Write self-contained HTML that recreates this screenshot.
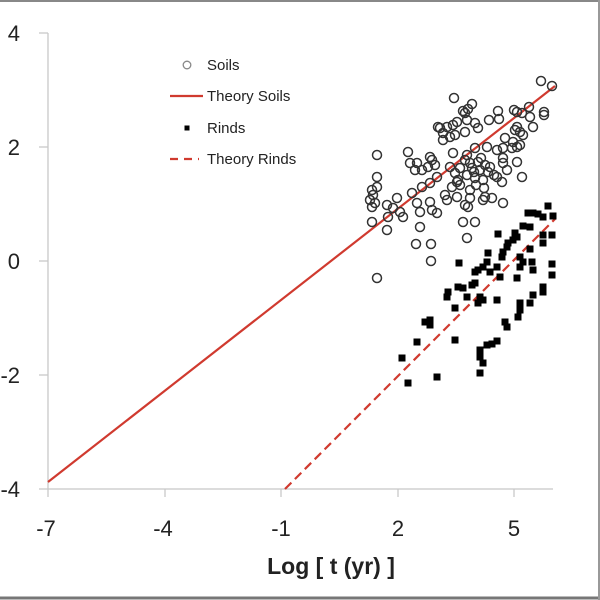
<!DOCTYPE html>
<html><head><style>
html,body{margin:0;padding:0;background:#fff;}
svg{display:block;font-family:"Liberation Sans",sans-serif;}
</style></head><body>
<svg width="600" height="600" viewBox="0 0 600 600" xmlns="http://www.w3.org/2000/svg">
<rect x="0" y="0" width="600" height="600" fill="#fff"/>
<line x1="0" y1="1" x2="600" y2="1" stroke="#888" stroke-width="2"/>
<line x1="0" y1="598" x2="600" y2="598" stroke="#777" stroke-width="3"/>
<line x1="599" y1="0" x2="599" y2="600" stroke="#999" stroke-width="2"/>
<!-- axes -->
<g stroke="#c8c8c8" stroke-width="1.3">
<line x1="48" y1="33" x2="48" y2="489"/>
<line x1="48" y1="489" x2="553" y2="489"/>
<line x1="39" y1="33" x2="48" y2="33"/><line x1="39" y1="147" x2="48" y2="147"/><line x1="39" y1="261" x2="48" y2="261"/><line x1="39" y1="375" x2="48" y2="375"/><line x1="39" y1="489" x2="48" y2="489"/>
<line x1="48" y1="489" x2="48" y2="497"/><line x1="165" y1="489" x2="165" y2="497"/><line x1="281" y1="489" x2="281" y2="497"/><line x1="398" y1="489" x2="398" y2="497"/><line x1="514" y1="489" x2="514" y2="497"/>
</g>
<g font-size="22" fill="#222" text-anchor="end">
<text x="20" y="41">4</text><text x="20" y="155">2</text><text x="20" y="269">0</text><text x="20" y="383">-2</text><text x="20" y="497">-4</text>
</g>
<g font-size="22" fill="#222" text-anchor="middle">
<text x="46" y="536">-7</text><text x="163" y="536">-4</text><text x="281" y="536">-1</text><text x="398" y="536">2</text><text x="514" y="536">5</text>
<text x="331" y="574" font-weight="bold" font-size="23">Log [ t (yr) ]</text>
</g>
<!-- theory lines -->
<line x1="48" y1="482" x2="555" y2="86" stroke="#d03a2f" stroke-width="2.2"/>
<line x1="285" y1="489" x2="555" y2="219" stroke="#d03a2f" stroke-width="2.2" stroke-dasharray="9,5"/>
<!-- soils -->
<g fill="none" stroke="#333" stroke-width="1.5">
<script></script>
<circle cx="541" cy="81" r="4.5"/><circle cx="552" cy="86" r="4.5"/><circle cx="454" cy="98" r="4.5"/><circle cx="472" cy="104" r="4.5"/><circle cx="463" cy="111" r="4.5"/><circle cx="468" cy="109" r="4.5"/><circle cx="465" cy="113" r="4.5"/><circle cx="498" cy="111" r="4.5"/><circle cx="489" cy="120" r="4.5"/><circle cx="499" cy="119" r="4.5"/><circle cx="514" cy="110" r="4.5"/><circle cx="517" cy="112" r="4.5"/><circle cx="529" cy="107" r="4.5"/><circle cx="522" cy="113" r="4.5"/><circle cx="544" cy="112" r="4.5"/><circle cx="544" cy="115" r="4.5"/><circle cx="530" cy="117" r="4.5"/>
<circle cx="438" cy="127" r="4.5"/><circle cx="440" cy="128" r="4.5"/><circle cx="447" cy="127" r="4.5"/><circle cx="453" cy="125" r="4.5"/><circle cx="457" cy="122" r="4.5"/><circle cx="467" cy="120" r="4.5"/><circle cx="475" cy="123" r="4.5"/><circle cx="478" cy="128" r="4.5"/><circle cx="533" cy="127" r="4.5"/><circle cx="517" cy="127" r="4.5"/><circle cx="515" cy="130" r="4.5"/><circle cx="520" cy="132" r="4.5"/><circle cx="523" cy="135" r="4.5"/>
<circle cx="443" cy="133" r="4.5"/><circle cx="450" cy="137" r="4.5"/><circle cx="443" cy="140" r="4.5"/><circle cx="455" cy="135" r="4.5"/><circle cx="465" cy="132" r="4.5"/><circle cx="505" cy="138" r="4.5"/><circle cx="513" cy="142" r="4.5"/><circle cx="517" cy="147" r="4.5"/><circle cx="512" cy="148" r="4.5"/><circle cx="520" cy="145" r="4.5"/>
<circle cx="377" cy="155" r="4.5"/><circle cx="408" cy="152" r="4.5"/><circle cx="410" cy="163" r="4.5"/><circle cx="417" cy="163" r="4.5"/><circle cx="430" cy="157" r="4.5"/><circle cx="432" cy="160" r="4.5"/><circle cx="428" cy="167" r="4.5"/><circle cx="435" cy="165" r="4.5"/><circle cx="422" cy="170" r="4.5"/><circle cx="415" cy="170" r="4.5"/>
<circle cx="467" cy="155" r="4.5"/><circle cx="453" cy="153" r="4.5"/><circle cx="475" cy="148" r="4.5"/><circle cx="487" cy="147" r="4.5"/><circle cx="497" cy="150" r="4.5"/><circle cx="503" cy="148" r="4.5"/>
<circle cx="465" cy="160" r="4.5"/><circle cx="470" cy="163" r="4.5"/><circle cx="478" cy="162" r="4.5"/><circle cx="485" cy="165" r="4.5"/><circle cx="472" cy="168" r="4.5"/><circle cx="480" cy="170" r="4.5"/><circle cx="488" cy="172" r="4.5"/><circle cx="467" cy="175" r="4.5"/><circle cx="475" cy="178" r="4.5"/><circle cx="483" cy="180" r="4.5"/><circle cx="490" cy="167" r="4.5"/><circle cx="460" cy="168" r="4.5"/><circle cx="476" cy="185" r="4.5"/><circle cx="484" cy="188" r="4.5"/><circle cx="470" cy="190" r="4.5"/><circle cx="494" cy="175" r="4.5"/><circle cx="458" cy="180" r="4.5"/><circle cx="481" cy="158" r="4.5"/><circle cx="474" cy="172" r="4.5"/>
<circle cx="450" cy="167" r="4.5"/><circle cx="455" cy="173" r="4.5"/><circle cx="457" cy="182" r="4.5"/><circle cx="452" cy="187" r="4.5"/><circle cx="460" cy="185" r="4.5"/><circle cx="503" cy="163" r="4.5"/><circle cx="507" cy="170" r="4.5"/><circle cx="497" cy="177" r="4.5"/><circle cx="502" cy="182" r="4.5"/><circle cx="503" cy="158" r="4.5"/><circle cx="517" cy="162" r="4.5"/><circle cx="522" cy="177" r="4.5"/>
<circle cx="377" cy="177" r="4.5"/><circle cx="377" cy="187" r="4.5"/><circle cx="372" cy="190" r="4.5"/><circle cx="370" cy="200" r="4.5"/><circle cx="372" cy="207" r="4.5"/><circle cx="375" cy="203" r="4.5"/><circle cx="373" cy="195" r="4.5"/><circle cx="372" cy="222" r="4.5"/>
<circle cx="397" cy="198" r="4.5"/><circle cx="387" cy="205" r="4.5"/><circle cx="388" cy="217" r="4.5"/><circle cx="387" cy="230" r="4.5"/><circle cx="400" cy="212" r="4.5"/><circle cx="403" cy="217" r="4.5"/><circle cx="393" cy="208" r="4.5"/>
<circle cx="412" cy="193" r="4.5"/><circle cx="417" cy="203" r="4.5"/><circle cx="422" cy="187" r="4.5"/><circle cx="430" cy="183" r="4.5"/><circle cx="437" cy="177" r="4.5"/><circle cx="420" cy="212" r="4.5"/><circle cx="430" cy="202" r="4.5"/><circle cx="432" cy="210" r="4.5"/><circle cx="437" cy="213" r="4.5"/>
<circle cx="447" cy="200" r="4.5"/><circle cx="445" cy="195" r="4.5"/><circle cx="457" cy="197" r="4.5"/><circle cx="465" cy="205" r="4.5"/><circle cx="468" cy="207" r="4.5"/><circle cx="470" cy="198" r="4.5"/><circle cx="483" cy="200" r="4.5"/><circle cx="485" cy="197" r="4.5"/><circle cx="492" cy="198" r="4.5"/><circle cx="503" cy="203" r="4.5"/>
<circle cx="463" cy="222" r="4.5"/><circle cx="475" cy="222" r="4.5"/><circle cx="467" cy="238" r="4.5"/><circle cx="420" cy="227" r="4.5"/><circle cx="416" cy="244" r="4.5"/><circle cx="431" cy="244" r="4.5"/><circle cx="431" cy="261" r="4.5"/><circle cx="377" cy="278" r="4.5"/>
</g>
<!-- rinds -->
<g fill="#000">
<rect x="544.5" y="202.5" width="7" height="7"/><rect x="524.5" y="209.5" width="7" height="7"/><rect x="529.5" y="209.5" width="7" height="7"/><rect x="534.5" y="210.5" width="7" height="7"/><rect x="539.5" y="213.5" width="7" height="7"/><rect x="549.5" y="212.5" width="7" height="7"/><rect x="519.5" y="222.5" width="7" height="7"/><rect x="526.5" y="223.5" width="7" height="7"/><rect x="494.5" y="230.5" width="7" height="7"/>
<rect x="511.5" y="229.5" width="7" height="7"/><rect x="513.5" y="233.5" width="7" height="7"/><rect x="509.5" y="236.5" width="7" height="7"/><rect x="504.5" y="239.5" width="7" height="7"/><rect x="503.5" y="243.5" width="7" height="7"/><rect x="539.5" y="231.5" width="7" height="7"/><rect x="548.5" y="231.5" width="7" height="7"/><rect x="539.5" y="239.5" width="7" height="7"/><rect x="526.5" y="245.5" width="7" height="7"/>
<rect x="484.5" y="249.5" width="7" height="7"/><rect x="499.5" y="248.5" width="7" height="7"/><rect x="498.5" y="253.5" width="7" height="7"/><rect x="516.5" y="253.5" width="7" height="7"/><rect x="519.5" y="258.5" width="7" height="7"/><rect x="516.5" y="263.5" width="7" height="7"/><rect x="528.5" y="258.5" width="7" height="7"/><rect x="529.5" y="266.5" width="7" height="7"/><rect x="548.5" y="260.5" width="7" height="7"/><rect x="548.5" y="271.5" width="7" height="7"/>
<rect x="455.5" y="259.5" width="7" height="7"/><rect x="483.5" y="258.5" width="7" height="7"/><rect x="479.5" y="263.5" width="7" height="7"/><rect x="474.5" y="266.5" width="7" height="7"/><rect x="471.5" y="268.5" width="7" height="7"/><rect x="486.5" y="268.5" width="7" height="7"/><rect x="493.5" y="263.5" width="7" height="7"/><rect x="496.5" y="273.5" width="7" height="7"/><rect x="513.5" y="274.5" width="7" height="7"/>
<rect x="471.5" y="279.5" width="7" height="7"/><rect x="468.5" y="281.5" width="7" height="7"/><rect x="444.5" y="288.5" width="7" height="7"/><rect x="443.5" y="293.5" width="7" height="7"/><rect x="454.5" y="283.5" width="7" height="7"/><rect x="459.5" y="284.5" width="7" height="7"/><rect x="463.5" y="293.5" width="7" height="7"/>
<rect x="476.5" y="293.5" width="7" height="7"/><rect x="474.5" y="299.5" width="7" height="7"/><rect x="479.5" y="296.5" width="7" height="7"/><rect x="493.5" y="296.5" width="7" height="7"/><rect x="539.5" y="283.5" width="7" height="7"/><rect x="539.5" y="288.5" width="7" height="7"/><rect x="529.5" y="291.5" width="7" height="7"/><rect x="526.5" y="299.5" width="7" height="7"/>
<rect x="516.5" y="299.5" width="7" height="7"/><rect x="516.5" y="306.5" width="7" height="7"/><rect x="514.5" y="313.5" width="7" height="7"/><rect x="451.5" y="304.5" width="7" height="7"/><rect x="421.5" y="318.5" width="7" height="7"/><rect x="426.5" y="316.5" width="7" height="7"/><rect x="426.5" y="321.5" width="7" height="7"/><rect x="501.5" y="318.5" width="7" height="7"/><rect x="503.5" y="323.5" width="7" height="7"/>
<rect x="413.5" y="338.5" width="7" height="7"/><rect x="451.5" y="336.5" width="7" height="7"/><rect x="493.5" y="337.5" width="7" height="7"/><rect x="488.5" y="340.5" width="7" height="7"/><rect x="483.5" y="341.5" width="7" height="7"/><rect x="476.5" y="346.5" width="7" height="7"/><rect x="476.5" y="353.5" width="7" height="7"/><rect x="479.5" y="359.5" width="7" height="7"/><rect x="476.5" y="369.5" width="7" height="7"/>
<rect x="398.5" y="354.5" width="7" height="7"/><rect x="404.5" y="379.5" width="7" height="7"/><rect x="433.5" y="373.5" width="7" height="7"/>
</g>
<!-- legend -->
<circle cx="187" cy="65" r="3.8" fill="none" stroke="#888" stroke-width="1.3"/>
<line x1="170" y1="96" x2="203" y2="96" stroke="#d03a2f" stroke-width="2.2"/>
<rect x="184.5" y="125.5" width="5" height="5" fill="#000"/>
<line x1="170" y1="159" x2="199" y2="159" stroke="#d03a2f" stroke-width="2.2" stroke-dasharray="8,6"/>
<g font-size="15" fill="#222">
<text x="207" y="70">Soils</text><text x="207" y="101">Theory Soils</text><text x="207" y="133">Rinds</text><text x="207" y="164">Theory Rinds</text>
</g>
</svg>
</body></html>
